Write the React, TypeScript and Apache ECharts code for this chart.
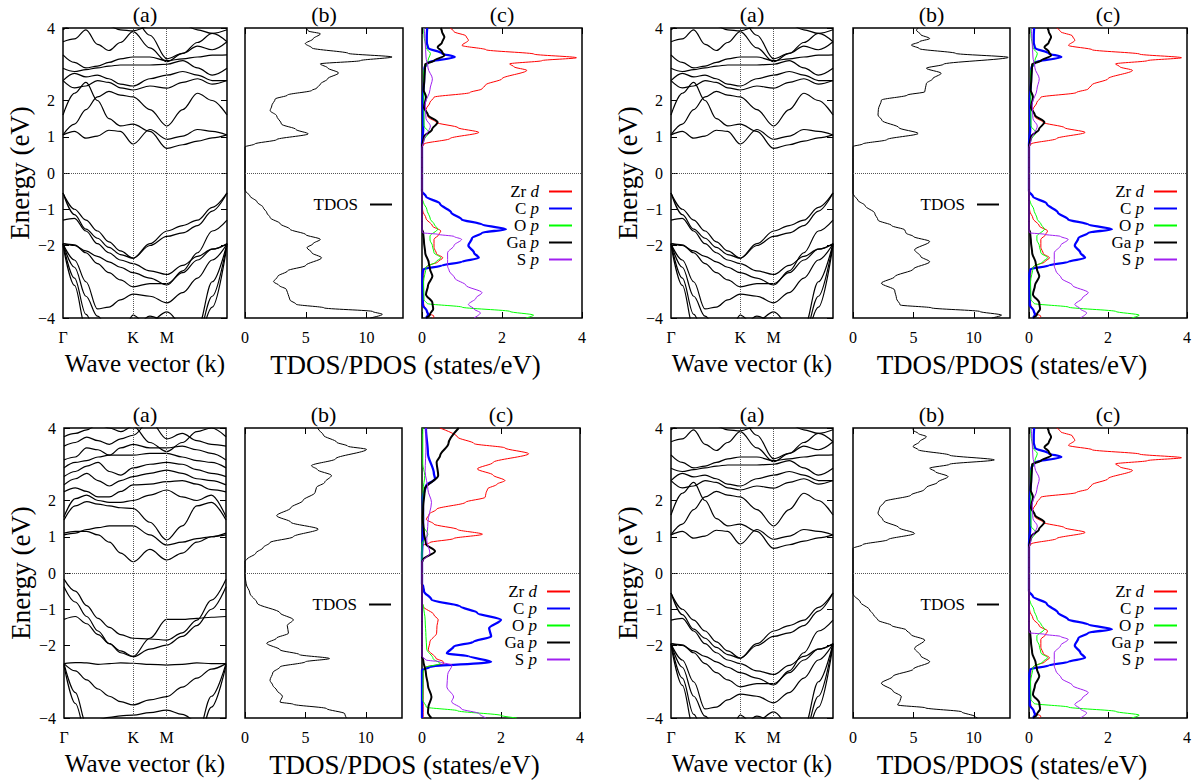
import React, { useEffect, useRef } from 'react';
import * as echarts from 'echarts';

// ---------- axis ticks / labels ----------
const K_POS = 0.427;
const M_POS = 0.634;
const KPTS = [0, 0.07, 0.14, 0.21, 0.28, 0.35, 0.427, 0.53, 0.634, 0.73, 0.82, 0.91, 1];
const K_TICKS = [0, K_POS, M_POS];
const K_TICK_LABELS = ['Γ', 'K', 'M'];
const ENERGY_TICKS = [4, 2, 1, 0, -1, -2, -4];
const TDOS_TICKS = [0, 5, 10];
const PDOS_TICKS = [0, 2, 4];
const TDOS_MAX = 13;
const PDOS_MAX = 4;
const PDOS_NAMES = ['Zr d', 'C p', 'O p', 'Ga p', 'S p'];

// ---------- band structures (energies at KPTS) ----------
const BANDS_A_COND = [
  [1.05, 1.15, 0.96, 1.02, 1.18, 1.15, 0.8, 1.2, 0.93, 1.02, 1.2, 1.15, 1.05],
  [1.6, 2.2, 2.5, 2.0, 1.5, 1.3, 1.35, 1.15, 0.68, 0.78, 0.88, 0.97, 1.05],
  [1.05, 1.35, 1.75, 2.1, 2.25, 2.15, 2.1, 1.75, 1.3, 1.75, 2.2, 2.0, 1.6],
  [2.55, 2.35, 2.4, 2.55, 2.5, 2.35, 2.29, 2.4, 2.34, 2.5, 2.6, 2.45, 2.55],
  [2.55, 2.75, 2.65, 2.7, 2.6, 2.45, 2.4, 2.6, 2.7, 2.8, 2.7, 2.55, 2.55],
  [2.89, 2.8, 2.85, 2.9, 2.95, 2.98, 2.98, 2.98, 3.0, 3.1, 2.9, 2.7, 2.89],
  [3.26, 3.05, 2.9, 2.95, 3.05, 3.15, 3.2, 3.2, 3.1, 3.15, 3.2, 3.25, 3.26],
  [3.62, 3.7, 3.95, 3.55, 3.38, 3.6, 3.9, 3.45, 3.07, 3.3, 3.5, 3.4, 3.62],
  [3.95, 4.1, 4.3, 4.2, 4.05, 3.95, 3.92, 4.05, 4.3, 4.1, 3.95, 3.85, 3.95],
  [4.5, 4.4, 4.35, 4.35, 4.4, 4.45, 4.3, 3.8, 3.15, 3.3, 3.6, 3.85, 3.62],
];
const BANDS_A_VAL = [
  [-0.55, -1.0, -1.3, -1.6, -1.9, -2.15, -2.35, -1.95, -1.6, -1.45, -1.3, -0.95, -0.55],
  [-0.55, -1.15, -1.55, -1.8, -2.05, -2.25, -2.35, -2.0, -1.75, -1.65, -1.45, -1.05, -0.55],
  [-1.3, -1.25, -1.6, -1.95, -2.2, -2.4, -2.5, -2.7, -2.8, -2.55, -2.3, -2.1, -1.95],
  [-1.95, -2.0, -2.15, -2.3, -2.45, -2.6, -2.75, -2.9, -3.09, -2.7, -2.2, -1.6, -1.3],
  [-1.95, -1.98, -2.2, -2.5, -2.75, -2.95, -3.14, -3.05, -3.05, -2.75, -2.4, -2.1, -1.95],
  [-1.95, -2.4, -3.0, -3.75, -3.7, -3.5, -3.34, -3.4, -3.58, -3.3, -2.9, -2.4, -1.95],
  [-1.95, -2.9, -3.9, -4.5, -4.6, -4.4, -4.2, -4.1, -3.83, -4.2, -4.5, -3.4, -1.95],
  [-2.0, -3.1, -4.3, -4.8, -4.8, -4.6, -3.92, -4.3, -4.6, -4.8, -4.6, -3.7, -2.0],
  [-1.95, -2.6, -3.4, -3.95, -4.3, -4.3, -4.3, -3.95, -4.1, -4.4, -4.3, -3.0, -1.95],
];
const BANDS_B_COND = [
  [1.1, 1.15, 1.15, 1.05, 0.85, 0.55, 0.31, 0.65, 0.36, 0.55, 0.85, 1.0, 1.1],
  [1.05, 1.1, 1.2, 1.25, 1.3, 1.3, 1.3, 1.05, 0.77, 0.85, 0.95, 1.0, 1.05],
  [1.46, 1.85, 1.97, 1.9, 1.85, 1.8, 1.78, 1.4, 0.91, 1.3, 1.85, 1.95, 1.46],
  [1.55, 2.05, 2.15, 2.0, 1.95, 1.95, 2.0, 2.15, 2.29, 2.1, 2.0, 2.15, 1.55],
  [2.24, 2.35, 2.25, 2.1, 2.1, 2.25, 2.43, 2.45, 2.52, 2.55, 2.45, 2.3, 2.24],
  [2.43, 2.6, 2.75, 2.55, 2.4, 2.55, 2.66, 2.75, 2.84, 2.75, 2.6, 2.55, 2.43],
  [2.66, 2.8, 2.95, 3.05, 2.8, 2.7, 2.9, 3.0, 3.05, 3.0, 2.85, 2.75, 2.66],
  [2.9, 3.05, 3.1, 3.2, 3.25, 3.25, 3.25, 3.3, 3.3, 3.2, 3.1, 3.05, 2.9],
  [3.12, 3.2, 3.45, 3.4, 3.25, 3.45, 3.55, 3.45, 3.45, 3.5, 3.4, 3.3, 3.12],
  [3.5, 3.6, 3.75, 3.65, 3.55, 3.7, 3.8, 4.2, 3.7, 3.85, 3.65, 3.55, 3.5],
  [3.76, 3.85, 3.95, 4.1, 4.0, 3.9, 4.05, 3.6, 3.35, 3.6, 3.9, 4.0, 3.76],
];
const BANDS_B_VAL = [
  [-0.17, -0.5, -0.9, -1.25, -1.5, -1.7, -1.8, -1.82, -1.85, -1.65, -1.3, -0.75, -0.17],
  [-0.38, -0.8, -1.2, -1.6, -1.95, -2.2, -2.31, -2.1, -1.99, -1.75, -1.45, -1.0, -0.38],
  [-1.28, -1.2, -1.4, -1.7, -1.95, -2.15, -2.3, -1.8, -1.28, -1.28, -1.25, -1.22, -1.2],
  [-2.5, -2.47, -2.48, -2.52, -2.5, -2.48, -2.49, -2.52, -2.54, -2.52, -2.48, -2.5, -2.5],
  [-2.5, -2.7, -2.95, -3.2, -3.4, -3.55, -3.64, -3.5, -3.41, -3.15, -2.9, -2.65, -2.5],
  [-2.5, -3.3, -4.2, -4.7, -4.8, -4.6, -4.4, -4.5, -4.7, -4.8, -4.5, -3.4, -2.5],
  [-2.55, -3.6, -4.5, -4.9, -4.9, -4.8, -4.6, -4.7, -4.8, -4.9, -4.8, -3.7, -2.55],
  [-4.4, -4.3, -4.15, -4.05, -3.98, -3.94, -3.92, -3.85, -3.78, -3.9, -4.1, -4.3, -4.4],
];

// ---------- total DOS: [energy, states/eV] ----------
const TDOS_TL = [
  [-4.0, 10.3], [-3.9, 11.3], [-3.82, 10.5], [-3.72, 6.5], [-3.62, 4.2], [-3.5, 3.7], [-3.4, 3.6],
  [-3.3, 3.5], [-3.21, 3.4], [-3.1, 2.8], [-3.0, 2.35], [-2.85, 2.7], [-2.7, 3.5], [-2.55, 5.0],
  [-2.34, 6.3], [-2.2, 5.5], [-2.06, 5.1], [-1.95, 5.6], [-1.83, 6.2], [-1.7, 5.0], [-1.55, 3.7],
  [-1.4, 2.9], [-1.23, 2.07], [-1.1, 1.8], [-0.95, 1.5], [-0.8, 1.0], [-0.63, 0.4], [-0.5, 0.05],
  [-0.45, 0], [0.72, 0], [0.8, 0.8], [0.92, 2.6], [1.08, 5.2], [1.2, 4.2], [1.35, 3.0], [1.58, 2.6],
  [1.72, 2.07], [1.85, 2.2], [2.04, 2.48], [2.15, 3.5], [2.28, 5.5], [2.34, 5.9], [2.45, 6.2],
  [2.6, 6.8], [2.76, 7.7], [2.9, 6.8], [3.01, 6.2], [3.1, 9.5], [3.2, 12.1], [3.3, 8.5], [3.45, 5.5],
  [3.57, 4.96], [3.7, 5.6], [3.84, 6.2], [3.92, 5.2], [4.0, 5.0],
];
const TDOS_TR = [
  [-4.0, 11.5], [-3.92, 12.3], [-3.82, 10.5], [-3.72, 6.5], [-3.64, 3.9], [-3.46, 3.6], [-3.23, 3.45],
  [-3.04, 2.35], [-2.86, 3.45], [-2.65, 5.0], [-2.45, 6.35], [-2.3, 5.6], [-2.12, 5.1], [-1.89, 6.35],
  [-1.75, 5.0], [-1.66, 4.4], [-1.57, 4.28], [-1.45, 3.2], [-1.3, 2.07], [-1.11, 1.8], [-0.9, 1.0],
  [-0.75, 0.4], [-0.6, 0.05], [-0.56, 0], [0.73, 0], [0.8, 0.8], [0.92, 2.8], [1.09, 5.39], [1.25, 3.8],
  [1.45, 2.4], [1.6, 2.07], [1.75, 2.1], [2.01, 2.35], [2.15, 4.5], [2.24, 5.94], [2.35, 6.0],
  [2.47, 6.08], [2.6, 6.6], [2.75, 7.3], [2.89, 6.08], [3.0, 7.5], [3.19, 12.85], [3.3, 8.5],
  [3.43, 5.5], [3.53, 4.83], [3.62, 5.5], [3.71, 6.35], [3.82, 5.6], [3.94, 5.25], [4.0, 5.4],
];
const TDOS_BL = [
  [-4.0, 8.4], [-3.88, 8.26], [-3.74, 6.75], [-3.62, 4.0], [-3.56, 2.9], [-3.4, 3.1], [-3.23, 2.62],
  [-3.1, 2.3], [-2.96, 2.07], [-2.75, 2.3], [-2.59, 2.9], [-2.45, 5.0], [-2.36, 7.0], [-2.25, 4.5],
  [-2.12, 2.9], [-1.94, 1.8], [-1.8, 2.6], [-1.66, 3.6], [-1.45, 3.5], [-1.29, 4.0], [-1.1, 2.9],
  [-0.83, 1.0], [-0.55, 0.4], [-0.3, 0.1], [-0.09, 0], [0.33, 0], [0.37, 0.14], [0.55, 0.9], [0.7, 1.5],
  [0.84, 2.07], [1.0, 4.0], [1.21, 6.06], [1.4, 3.8], [1.58, 2.62], [1.8, 3.8], [2.0, 4.8], [2.22, 5.8],
  [2.36, 5.92], [2.5, 6.6], [2.69, 7.16], [2.85, 6.0], [2.96, 5.5], [3.15, 7.5], [3.41, 10.06],
  [3.5, 8.5], [3.61, 7.58], [3.8, 6.5], [3.98, 6.06], [4.0, 6.0],
];
const TDOS_BR = [
  [-4.0, 10.3], [-3.96, 10.1], [-3.83, 9.0], [-3.72, 6.0], [-3.64, 3.7], [-3.52, 3.9], [-3.41, 4.0],
  [-3.25, 3.3], [-3.04, 2.35], [-2.85, 3.3], [-2.65, 5.0], [-2.45, 6.35], [-2.28, 5.6], [-2.08, 5.1],
  [-1.85, 5.94], [-1.7, 4.8], [-1.57, 4.4], [-1.45, 3.2], [-1.3, 2.07], [-1.15, 1.7], [-1.02, 1.38],
  [-0.8, 0.6], [-0.6, 0.05], [-0.56, 0], [0.68, 0], [0.78, 0.8], [0.92, 2.9], [1.09, 5.1], [1.25, 3.8],
  [1.45, 2.5], [1.65, 2.07], [1.8, 2.2], [1.97, 2.62], [2.15, 4.8], [2.3, 5.9], [2.36, 6.08],
  [2.5, 7.0], [2.66, 7.87], [2.8, 6.8], [2.89, 6.35], [3.0, 8.0], [3.12, 11.7], [3.25, 8.0],
  [3.4, 5.4], [3.49, 4.97], [3.62, 5.5], [3.76, 6.08], [3.85, 5.4], [3.94, 4.97], [4.0, 5.0],
];

// ---------- projected DOS: [energy, states/eV] ----------
const ZRD_A = [
  [-4.0, 0.25], [-3.95, 0.3], [-3.85, 0.12], [-3.6, 0.04], [-3.0, 0.03], [-2.66, 0.05], [-2.57, 0.13],
  [-2.45, 0.4], [-2.34, 0.52], [-2.22, 0.36], [-2.05, 0.3], [-1.83, 0.3], [-1.7, 0.42], [-1.6, 0.47],
  [-1.46, 0.26], [-1.25, 0.1], [-1.05, 0.02], [-0.9, 0], [0.7, 0], [0.8, 0.05], [0.95, 0.7],
  [1.12, 1.42], [1.25, 0.9], [1.4, 0.35], [1.55, 0.15], [1.75, 0.1], [1.95, 0.2], [2.09, 0.3],
  [2.22, 1.2], [2.32, 1.5], [2.43, 1.59], [2.6, 2.0], [2.83, 2.62], [2.93, 2.3], [3.01, 2.19],
  [3.1, 3.0], [3.18, 3.86], [3.28, 2.8], [3.4, 1.6], [3.52, 1.0], [3.66, 1.16], [3.78, 1.1],
  [3.9, 0.8], [4.0, 0.7],
];
const CP_A = [
  [-4.0, 0.1], [-3.9, 0.15], [-3.8, 0.12], [-3.65, 0.02], [-2.8, 0.01], [-2.66, 0.03], [-2.55, 0.5],
  [-2.45, 1.0], [-2.34, 1.42], [-2.2, 1.3], [-2.0, 1.16], [-1.8, 1.25], [-1.65, 1.5], [-1.55, 2.1],
  [-1.42, 1.5], [-1.28, 0.99], [-1.09, 0.73], [-0.85, 0.45], [-0.65, 0.1], [-0.5, 0], [0.8, 0],
  [1.2, 0.03], [2.0, 0.02], [2.5, 0.05], [2.9, 0.06], [3.05, 0.15], [3.2, 0.82], [3.3, 0.5],
  [3.45, 0.15], [3.6, 0.12], [3.8, 0.12], [4.0, 0.13],
];
const OP_A = [
  [-4.0, 2.6], [-3.92, 2.79], [-3.82, 2.2], [-3.7, 1.0], [-3.6, 0.13], [-3.5, 0.05], [-3.0, 0.04],
  [-2.6, 0.1], [-2.45, 0.35], [-2.34, 0.47], [-2.2, 0.3], [-2.0, 0.26], [-1.85, 0.2], [-1.74, 0.2],
  [-1.55, 0.39], [-1.4, 0.3], [-1.28, 0.21], [-1.0, 0.12], [-0.82, 0.04], [-0.7, 0], [0.75, 0],
  [0.9, 0.05], [1.12, 0.17], [1.3, 0.05], [2.8, 0.04], [3.1, 0.15], [3.3, 0.21], [3.45, 0.1],
  [3.8, 0.05], [4.0, 0.04],
];
const GAP_A = [
  [-4.0, 0.1], [-3.9, 0.2], [-3.75, 0.28], [-3.58, 0.26], [-3.35, 0.1], [-3.1, 0.15], [-2.85, 0.26],
  [-2.65, 0.2], [-2.48, 0.17], [-2.2, 0.08], [-1.9, 0.05], [-1.65, 0.03], [-1.55, 0], [0.75, 0],
  [0.85, 0.02], [1.0, 0.05], [1.2, 0.25], [1.4, 0.39], [1.6, 0.15], [1.8, 0.05], [2.1, 0.1],
  [2.3, 0.04], [2.6, 0.06], [3.0, 0.08], [3.1, 0.3], [3.24, 0.56], [3.35, 0.5], [3.47, 0.39],
  [3.6, 0.5], [3.75, 0.56], [3.9, 0.5], [4.0, 0.47],
];
const SP_A = [
  [-4.0, 1.3], [-3.86, 1.46], [-3.75, 1.3], [-3.63, 1.16], [-3.45, 1.35], [-3.3, 1.5], [-3.1, 1.1],
  [-2.9, 0.82], [-2.7, 0.68], [-2.57, 0.64], [-2.2, 0.64], [-2.0, 0.8], [-1.83, 0.99], [-1.75, 0.8],
  [-1.69, 0.39], [-1.65, 0.02], [-1.6, 0], [0.7, 0], [0.9, 0.05], [1.3, 0.21], [1.5, 0.1], [1.9, 0.08],
  [2.3, 0.2], [2.6, 0.26], [2.9, 0.15], [3.2, 0.1], [3.6, 0.08], [4.0, 0.05],
];
const ZRD_B = [
  [-4.0, 0.03], [-2.7, 0.03], [-2.6, 0.08], [-2.5, 0.55], [-2.45, 0.54], [-2.35, 0.35], [-2.12, 0.16],
  [-1.9, 0.2], [-1.66, 0.37], [-1.45, 0.38], [-1.29, 0.41], [-1.15, 0.3], [-0.92, 0.03], [-0.8, 0],
  [0.75, 0], [0.84, 0.2], [0.95, 0.8], [1.07, 1.53], [1.2, 0.9], [1.35, 0.3], [1.48, 0.11],
  [1.62, 0.18], [1.76, 0.37], [1.95, 1.1], [2.09, 1.6], [2.2, 1.62], [2.32, 1.66], [2.45, 1.9],
  [2.55, 2.1], [2.7, 1.8], [2.87, 1.4], [3.05, 1.8], [3.29, 2.7], [3.45, 2.1], [3.57, 1.32],
  [3.75, 0.9], [4.0, 0.45],
];
const CP_B = [
  [-4.0, 0], [-2.68, 0], [-2.59, 0.2], [-2.45, 1.75], [-2.3, 1.2], [-2.22, 0.63], [-2.03, 0.8],
  [-1.9, 1.3], [-1.75, 1.75], [-1.52, 1.7], [-1.29, 2.0], [-1.1, 1.4], [-0.92, 0.97], [-0.74, 0.24],
  [-0.5, 0.05], [-0.37, 0.03], [-0.3, 0], [0.5, 0], [1.0, 0.02], [1.5, 0.03], [2.1, 0.02],
  [2.4, 0.1], [2.6, 0.33], [2.75, 0.3], [3.3, 0.15], [3.98, 0.1], [4.0, 0.1],
];
const OP_B = [
  [-4.0, 2.4], [-3.93, 2.0], [-3.8, 0.9], [-3.7, 0.11], [-3.5, 0.02], [-2.7, 0.03], [-2.6, 0.1],
  [-2.5, 0.46], [-2.36, 0.28], [-2.1, 0.12], [-1.75, 0.1], [-1.3, 0.08], [-0.92, 0.04], [-0.8, 0],
  [0.8, 0], [1.07, 0.15], [1.3, 0.03], [2.3, 0.03], [2.69, 0.07], [3.0, 0.02], [4.0, 0.02],
];
const GAP_B = [
  [-4.0, 0.24], [-3.85, 0.15], [-3.7, 0.16], [-3.42, 0.24], [-3.1, 0.15], [-2.77, 0.1], [-2.4, 0.03],
  [-2.3, 0], [0.3, 0], [0.37, 0.03], [0.6, 0.33], [0.8, 0.1], [1.1, 0.05], [1.5, 0.02], [1.8, 0.03],
  [2.32, 0.07], [2.69, 0.41], [3.06, 0.37], [3.24, 0.46], [3.57, 0.67], [4.0, 0.93],
];
const SP_B = [
  [-4.0, 1.62], [-3.88, 1.45], [-3.75, 1.0], [-3.55, 0.75], [-3.42, 0.8], [-3.14, 0.63], [-2.8, 0.65],
  [-2.54, 0.76], [-2.45, 0.45], [-2.4, 0.1], [-2.3, 0], [0.3, 0], [0.55, 0.2], [0.9, 0.12],
  [1.4, 0.15], [1.95, 0.24], [2.3, 0.15], [2.8, 0.08], [3.5, 0.1], [4.0, 0.1],
];

const PDOS_A = [ZRD_A, CP_A, OP_A, GAP_A, SP_A];
const PDOS_B = [ZRD_B, CP_B, OP_B, GAP_B, SP_B];

// ---------- styling / layout ----------
const FONT = '"Liberation Serif", "DejaVu Serif", serif';
const W = 1201;
const PDOS_STYLE = [
  { color: '#ff0000', width: 1 },
  { color: '#0000ff', width: 2.3 },
  { color: '#00ff00', width: 1 },
  { color: '#000000', width: 2 },
  { color: '#a020f0', width: 1 },
];

const GROUPS = [
  { a: [63, 227], b: [245, 403], c: [422, 582], top: 28, bottom: 318, bandsC: BANDS_A_COND, bandsV: BANDS_A_VAL, tdos: TDOS_TL, pdos: PDOS_A },
  { a: [671, 833], b: [853, 1010], c: [1029, 1187], top: 28, bottom: 318, bandsC: BANDS_A_COND, bandsV: BANDS_A_VAL, tdos: TDOS_TR, pdos: PDOS_A },
  { a: [64, 226], b: [245, 402], c: [422, 580], top: 428, bottom: 718, bandsC: BANDS_B_COND, bandsV: BANDS_B_VAL, tdos: TDOS_BL, pdos: PDOS_B },
  { a: [671, 833], b: [853, 1010], c: [1029, 1187], top: 428, bottom: 718, bandsC: BANDS_A_COND, bandsV: BANDS_A_VAL, tdos: TDOS_BR, pdos: PDOS_A },
];

const fmtNum = (v: number) => (v < 0 ? '\u2212' + Math.abs(v) : String(v));
const kLabel = (v: number) => {
  let best = 0;
  K_TICKS.forEach((t, i) => {
    if (Math.abs(t - v) < Math.abs(K_TICKS[best] - v)) best = i;
  });
  return K_TICK_LABELS[best];
};

const labelStyle = { fontFamily: FONT, fontSize: 16, color: '#000' };
const noLine = { show: false, onZero: false };

function buildOption() {
  const grid: any[] = [];
  const xAxis: any[] = [];
  const yAxis: any[] = [];
  const series: any[] = [];
  const title: any[] = [];
  const legend: any[] = [];
  const dotted = { type: 'dotted', color: '#555', width: 1 };

  GROUPS.forEach((g) => {
    const h = g.bottom - g.top;
    const panels = [g.a, g.b, g.c];
    panels.forEach((p, pi) => {
      const gi = grid.length;
      grid.push({
        left: p[0], top: g.top, width: p[1] - p[0], height: h,
        show: true, borderColor: '#000', borderWidth: 1.5, backgroundColor: 'transparent',
      });
      title.push({
        text: ['(a)', '(b)', '(c)'][pi], left: (p[0] + p[1]) / 2, top: g.top - 25,
        textAlign: 'center', padding: 0,
        textStyle: { fontFamily: FONT, fontSize: 22, fontWeight: 'normal', color: '#000' },
      });
      const xi = xAxis.length;
      const yi = yAxis.length;
      if (pi === 0) {
        xAxis.push({
          type: 'value', gridIndex: gi, position: 'bottom', min: 0, max: 1,
          axisLine: noLine, axisTick: { show: false }, splitLine: { show: false },
          axisLabel: { show: true, customValues: K_TICKS, formatter: kLabel, margin: 11, ...labelStyle },
          name: 'Wave vector (k)', nameLocation: 'middle', nameGap: 33, nameMoveOverlap: false,
          nameTextStyle: { fontFamily: FONT, fontSize: 25, color: '#000' },
        });
        xAxis.push({
          type: 'value', gridIndex: gi, position: 'top', min: 0, max: 1,
          axisLine: noLine, axisTick: { show: false }, axisLabel: { show: false }, splitLine: { show: false },
        });
        yAxis.push({
          type: 'value', gridIndex: gi, position: 'left', min: -4, max: 4,
          axisLine: noLine, splitLine: { show: false },
          axisTick: { show: true, inside: true, length: 6, customValues: ENERGY_TICKS, lineStyle: { color: '#000' } },
          axisLabel: { show: true, customValues: ENERGY_TICKS, formatter: fmtNum, margin: 8, ...labelStyle },
          name: 'Energy (eV)', nameLocation: 'middle', nameGap: 30, nameRotate: 90, nameMoveOverlap: false,
          nameTextStyle: { fontFamily: FONT, fontSize: 27, color: '#000' },
        });
        yAxis.push({
          type: 'value', gridIndex: gi, position: 'right', min: -4, max: 4,
          axisLine: noLine, splitLine: { show: false }, axisLabel: { show: false },
          axisTick: { show: true, inside: true, length: 6, customValues: ENERGY_TICKS, lineStyle: { color: '#000' } },
        });
        const bands = [...g.bandsC, ...g.bandsV];
        bands.forEach((b, bi) => {
          series.push({
            type: 'line', name: 'band', xAxisIndex: xi, yAxisIndex: yi,
            data: KPTS.map((k, i) => [k, b[i]]),
            smooth: 0.35, smoothMonotone: 'x', symbol: 'none', silent: true,
            lineStyle: { color: '#000', width: 1.2 },
            markLine: bi === 0 ? {
              silent: true, symbol: ['none', 'none'], label: { show: false },
              lineStyle: dotted,
              data: [{ yAxis: 0 }, { xAxis: K_POS }, { xAxis: M_POS }],
            } : undefined,
          });
        });
      } else {
        const max = pi === 1 ? TDOS_MAX : PDOS_MAX;
        const ticks = pi === 1 ? TDOS_TICKS : PDOS_TICKS;
        xAxis.push({
          type: 'value', gridIndex: gi, position: 'bottom', min: 0, max,
          axisLine: noLine, splitLine: { show: false },
          axisTick: { show: true, inside: true, length: 6, customValues: ticks, lineStyle: { color: '#000' } },
          axisLabel: { show: true, customValues: ticks, margin: 11, ...labelStyle },
        });
        xAxis.push({
          type: 'value', gridIndex: gi, position: 'top', min: 0, max,
          axisLine: noLine, splitLine: { show: false }, axisLabel: { show: false },
          axisTick: { show: true, inside: true, length: 6, customValues: ticks, lineStyle: { color: '#000' } },
        });
        yAxis.push({ type: 'value', gridIndex: gi, min: -4, max: 4, show: false, axisLine: noLine });
        yAxis.push({ type: 'value', gridIndex: gi, min: -4, max: 4, show: false, position: 'right', axisLine: noLine });
        const mark = {
          silent: true, symbol: ['none', 'none'], label: { show: false },
          lineStyle: dotted, data: [{ yAxis: 0 }],
        };
        if (pi === 1) {
          series.push({
            type: 'line', name: 'TDOS', xAxisIndex: xi, yAxisIndex: yi,
            data: g.tdos.map(([e, v]) => [v, e]),
            smooth: 0.3, smoothMonotone: 'y', symbol: 'none', silent: true,
            lineStyle: { color: '#000', width: 1 }, itemStyle: { color: '#000' }, markLine: mark,
          });
        } else {
          g.pdos.forEach((curve, ci) => {
            series.push({
              type: 'line', name: PDOS_NAMES[ci], xAxisIndex: xi, yAxisIndex: yi,
              data: curve.map(([e, v]) => [v, e]),
              smooth: 0.3, smoothMonotone: 'y', symbol: 'none', silent: true,
              lineStyle: { color: PDOS_STYLE[ci].color, width: PDOS_STYLE[ci].width },
              itemStyle: { color: PDOS_STYLE[ci].color },
              markLine: ci === 0 ? mark : undefined,
            });
          });
        }
      }
    });

    title.push({
      text: 'TDOS/PDOS (states/eV)', left: (g.b[0] + g.c[1]) / 2 - 8, top: g.bottom + 33,
      textAlign: 'center', padding: 0,
      textStyle: { fontFamily: FONT, fontSize: 27, fontWeight: 'normal', color: '#000' },
    });

    legend.push({
      data: ['TDOS'], selectedMode: false, orient: 'vertical', align: 'right',
      right: W - (g.b[1] - 10), top: g.top + 177 - 9, padding: 0,
      itemWidth: 22, itemHeight: 2, itemStyle: { opacity: 0 },
      textStyle: { fontFamily: FONT, fontSize: 17, color: '#000', padding: [0, 7, 0, 0] },
    });
    legend.push({
      data: PDOS_NAMES, selectedMode: false, orient: 'vertical', align: 'right',
      right: W - (g.c[1] - 9), top: g.top + 163 - 8, padding: 0,
      itemWidth: 23, itemHeight: 2, itemGap: 0, itemStyle: { opacity: 0 },
      formatter: (n: string) => {
        const parts = n.split(' ');
        return `{n|${parts[0]} }{i|${parts[1]}}`;
      },
      textStyle: {
        padding: [0, 5, 0, 0],
        rich: {
          n: { fontFamily: FONT, fontSize: 17, color: '#000', lineHeight: 16.3 },
          i: { fontFamily: FONT, fontSize: 17, fontStyle: 'italic', color: '#000', lineHeight: 16.3 },
        },
      },
    });
  });

  return { animation: false, backgroundColor: '#fff', grid, xAxis, yAxis, series, title, legend };
}

export default function App() {
  const ref = useRef<HTMLDivElement>(null);
  useEffect(() => {
    if (!ref.current) return;
    const chart = echarts.init(ref.current, null, { renderer: 'svg' });
    chart.setOption(buildOption() as any);
    return () => chart.dispose();
  }, []);
  return (
    <div
      ref={ref}
      style={{ position: 'absolute', left: 0, top: 0, width: W, height: 783, background: '#fff' }}
    />
  );
}
